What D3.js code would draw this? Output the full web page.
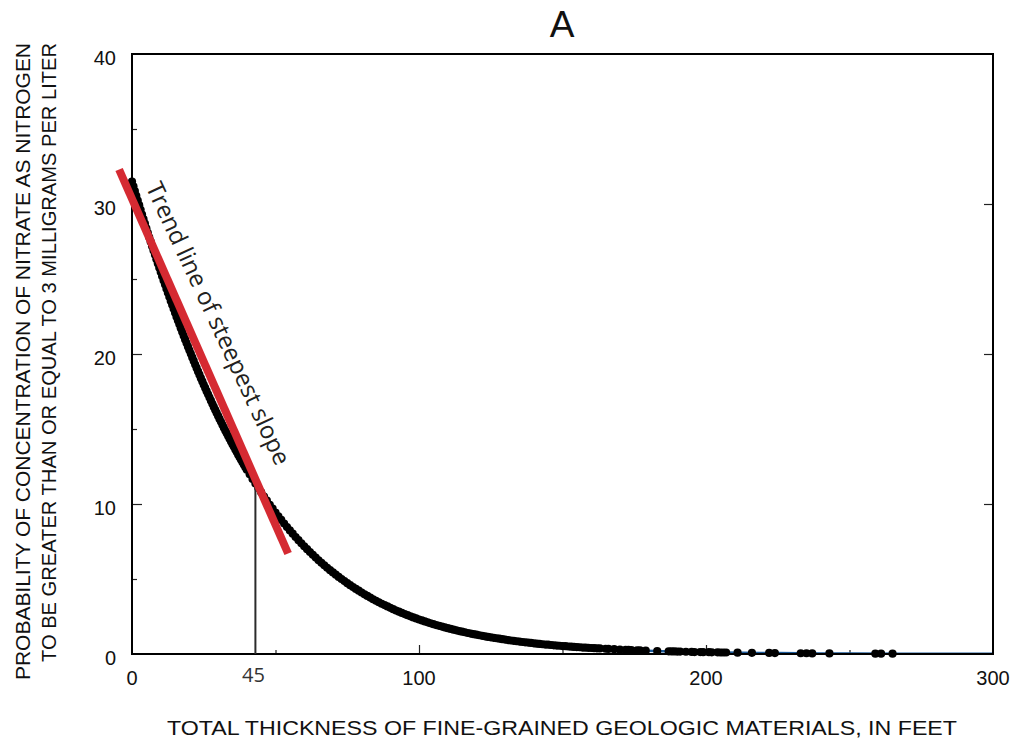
<!DOCTYPE html>
<html>
<head>
<meta charset="utf-8">
<script src="https://cdn.jsdelivr.net/npm/d3@7"></script>
<style>
    body { margin: 0; background: #ffffff; }
    svg { display: block; }
</style>
</head>
<body>
<div class="graph-one"></div>
<script>
// thickness of fine-grained materials (ft) and probability (percent) for each well
const thicknessFt = [
    0, 0.5, 1, 1.5, 2, 2.5, 3, 3.5, 4, 4.5, 5, 5.5, 6, 6.5, 7, 7.5, 8, 8.5, 9, 9.5,
    10, 10.5, 11, 11.5, 12, 12.5, 13, 13.5, 14, 14.5, 15, 15.5, 16, 16.5, 17, 17.5, 18, 18.5, 19, 19.5,
    20, 20.5, 21, 21.5, 22, 22.5, 23, 23.5, 24, 24.5, 25, 25.5, 26, 26.5, 27, 27.5, 28, 28.5, 29, 29.5,
    30, 30.5, 31, 31.5, 32, 32.5, 33, 33.5, 34, 34.5, 35, 35.5, 36, 36.5, 37, 37.5, 38, 38.5, 39, 39.5,
    40, 41, 42, 43, 44, 45, 46, 47, 48, 49, 50, 51, 52, 53, 54, 55, 56, 57, 58, 59, 60,
    61, 62, 63, 64, 65, 66, 67, 68, 69, 70, 71, 72, 73, 74, 75, 76, 77, 78, 79, 80,
    81, 82, 83, 84, 85, 86, 87, 88, 89, 90, 91, 92, 93, 94, 95, 96, 97, 98, 99, 100,
    101, 102, 103, 104, 105, 106, 107, 108, 109, 110, 111, 112, 113, 114, 115, 116, 117, 118, 119, 120,
    121, 122, 123, 124, 125, 126, 127, 128, 129, 130, 131, 132, 133, 134, 135, 136, 137, 138, 139, 140,
    141, 142, 143, 144, 145, 146, 147, 148, 149, 150, 151, 152, 153, 154, 155, 156, 157, 158, 159, 160,
    161, 162, 163, 165, 166, 168, 170, 172, 173, 174, 176, 177, 179, 183, 187, 188, 189, 190, 191, 193,
    195, 196, 198, 199, 201, 202, 204, 205, 206, 207, 211, 216, 222, 224, 233, 235, 237, 243, 259, 261, 265
];

const probabilityPct = [
    31.50, 31.18, 30.86, 30.54, 30.23, 29.92, 29.61, 29.30, 28.99, 28.69,
    28.38, 28.08, 27.78, 27.49, 27.19, 26.90, 26.61, 26.32, 26.03, 25.75,
    25.46, 25.18, 24.90, 24.63, 24.35, 24.08, 23.81, 23.54, 23.28, 23.01,
    22.75, 22.49, 22.23, 21.98, 21.72, 21.47, 21.22, 20.97, 20.73, 20.49,
    20.25, 20.01, 19.77, 19.54, 19.30, 19.07, 18.84, 18.62, 18.39, 18.17,
    17.95, 17.74, 17.52, 17.31, 17.10, 16.89, 16.68, 16.47, 16.27, 16.07,
    15.87, 15.67, 15.48, 15.28, 15.09, 14.90, 14.72, 14.53, 14.35, 14.16,
    13.99, 13.81, 13.63, 13.46, 13.29, 13.12, 12.95, 12.78, 12.62, 12.45,
    12.29,
    11.98, 11.67, 11.36, 11.07, 10.78, 10.50, 10.22, 9.95, 9.69, 9.43,
    9.18, 8.94, 8.70, 8.46, 8.24, 8.02, 7.80, 7.59, 7.38, 7.18,
    6.99, 6.80, 6.61, 6.43, 6.25, 6.08, 5.91, 5.75, 5.59, 5.44,
    5.29, 5.14, 5.00, 4.86, 4.72, 4.59, 4.46, 4.34, 4.22, 4.10,
    3.98, 3.87, 3.76, 3.65, 3.55, 3.45, 3.35, 3.26, 3.17, 3.08,
    2.99, 2.90, 2.82, 2.74, 2.66, 2.59, 2.51, 2.44, 2.37, 2.30,
    2.24, 2.17, 2.11, 2.05, 1.99, 1.93, 1.88, 1.83, 1.77, 1.72,
    1.67, 1.62, 1.58, 1.53, 1.49, 1.45, 1.40, 1.36, 1.32, 1.29,
    1.25, 1.21, 1.18, 1.14, 1.11, 1.08, 1.05, 1.02, 0.99, 0.96,
    0.93, 0.90, 0.88, 0.85, 0.83, 0.80, 0.78, 0.76, 0.74, 0.71,
    0.69, 0.67, 0.65, 0.63, 0.62, 0.60, 0.58, 0.56, 0.55, 0.53,
    0.52, 0.50, 0.49, 0.47, 0.46, 0.45, 0.43, 0.42, 0.41, 0.40,
    0.39, 0.38, 0.37, 0.35, 0.34, 0.32, 0.29, 0.28, 0.27, 0.26,
    0.24, 0.24, 0.22, 0.20, 0.18, 0.17, 0.17, 0.16, 0.16, 0.15,
    0.14, 0.13, 0.13, 0.12, 0.12, 0.11, 0.11, 0.10, 0.10, 0.10,
    0.09, 0.08, 0.07, 0.06, 0.05, 0.05, 0.04, 0.04, 0.02, 0.02, 0.02
];

// fitted curve (blue line)
const fitThickness = [0, 25, 50, 75, 100, 125, 150, 175, 200, 225, 250, 275, 300];
const fitProbability = [31.50, 17.95, 9.43, 4.72, 2.30, 1.11, 0.53, 0.25, 0.12, 0.06, 0.03, 0.01, 0.01];

// trend line of steepest slope, end points
const trendThickness = [-4.5, 54.4];
const trendProbability = [32.3, 6.7];

// vertical marker at the steepest point
const markerThickness = 43;
const markerProbability = 11.7;
const markerLabel = "45";

const xTickLabels = ["0", "100", "200", "300"];
const xTickValues = [0, 100, 200, 300];
const xMinorTicks = [50, 150, 250];
const yTickValues = [0, 10, 20, 30, 40];
const yMinorTicks = [5, 15, 25, 35];

const chartTitle = "A";
const xTitle = "TOTAL THICKNESS OF FINE-GRAINED GEOLOGIC MATERIALS, IN FEET";
const yTitleLines = [
    "PROBABILITY OF CONCENTRATION OF NITRATE AS NITROGEN",
    "TO BE GREATER THAN OR EQUAL TO 3 MILLIGRAMS PER LITER"
];
const annotationText = "Trend line of steepest slope";

function scatterChartGenerator(width, height) {
    const configuration = {
        width: width,
        height: height,
        left: 132,
        right: 993,
        top: 54,
        bottom: 654,
        font: "'Liberation Sans', Arial, sans-serif",
        labelFont: "'Open Sans', sans-serif"
    };

    let scale_x = d3.scaleLinear()
        .domain([0, 300])
        .range([configuration.left, configuration.right]);

    let scale_y = d3.scaleLinear()
        .domain([0, 40])
        .range([configuration.bottom, configuration.top]);

    let svg = d3.select(".graph-one")
        .append("svg")
        .attr("width", configuration.width)
        .attr("height", configuration.height);

    // ticks (inside the frame)
    svg.append("g")
        .attr("transform", `translate(0,${configuration.bottom})`)
        .call(d3.axisTop(scale_x).tickValues(xTickValues.slice(1, 3)).tickSize(9).tickFormat(""))
        .call(g => g.select(".domain").remove());
    svg.append("g")
        .attr("transform", `translate(0,${configuration.bottom})`)
        .call(d3.axisTop(scale_x).tickValues(xMinorTicks).tickSize(4).tickFormat(""))
        .call(g => g.select(".domain").remove());
    svg.append("g")
        .attr("transform", `translate(${configuration.left},0)`)
        .call(d3.axisRight(scale_y).tickValues(yTickValues.slice(1, 4)).tickSize(10).tickFormat(""))
        .call(g => g.select(".domain").remove());
    svg.append("g")
        .attr("transform", `translate(${configuration.left},0)`)
        .call(d3.axisRight(scale_y).tickValues(yMinorTicks).tickSize(5).tickFormat(""))
        .call(g => g.select(".domain").remove());
    svg.append("g")
        .attr("transform", `translate(${configuration.right},0)`)
        .call(d3.axisLeft(scale_y).tickValues(yTickValues.slice(1, 4)).tickSize(9).tickFormat(""))
        .call(g => g.select(".domain").remove());
    svg.selectAll(".tick line").attr("stroke", "#222").attr("stroke-width", 1.2);

    // tick labels
    svg.append("g")
        .selectAll("text")
        .data(xTickValues)
        .join("text")
        .text((d, i) => xTickLabels[i])
        .attr("x", d => scale_x(d))
        .attr("y", 685)
        .attr("text-anchor", "middle")
        .attr("font-family", configuration.font)
        .attr("font-size", 20)
        .attr("fill", "#111");

    svg.append("g")
        .selectAll("text")
        .data(yTickValues)
        .join("text")
        .text(d => d)
        .attr("x", 116)
        .attr("y", d => scale_y(d) + 11)
        .attr("text-anchor", "end")
        .attr("font-family", configuration.font)
        .attr("font-size", 20)
        .attr("fill", "#111");

    // fitted curve
    const fitPoints = fitThickness.map((d, i) => [d, fitProbability[i]]);
    svg.append("path")
        .datum(fitPoints)
        .attr("fill", "none")
        .attr("stroke", "#1c5a99")
        .attr("stroke-width", 2.5)
        .attr("d", d3.line()
            .x(d => scale_x(d[0]))
            .y(d => scale_y(d[1]))
            .curve(d3.curveMonotoneX));

    // well points
    svg.append("g")
        .selectAll("circle")
        .data(thicknessFt.map((d, i) => [d, probabilityPct[i]]))
        .join("circle")
        .attr("cx", d => scale_x(d[0]))
        .attr("cy", d => scale_y(d[1]))
        .attr("r", 4.1)
        .attr("fill", "#000");

    // frame
    svg.append("rect")
        .attr("x", configuration.left)
        .attr("y", configuration.top)
        .attr("width", configuration.right - configuration.left)
        .attr("height", configuration.bottom - configuration.top)
        .attr("fill", "none")
        .attr("stroke", "#000")
        .attr("stroke-width", 2);

    // marker at steepest point
    svg.append("line")
        .attr("x1", scale_x(markerThickness))
        .attr("x2", scale_x(markerThickness))
        .attr("y1", scale_y(0))
        .attr("y2", scale_y(markerProbability))
        .attr("stroke", "#2b2b2b")
        .attr("stroke-width", 2);

    svg.append("text")
        .text(markerLabel)
        .attr("x", scale_x(markerThickness) - 2)
        .attr("y", 682)
        .attr("text-anchor", "middle")
        .attr("font-family", configuration.labelFont)
        .attr("font-size", 20)
        .attr("fill", "#333");

    // trend line
    svg.append("line")
        .attr("x1", scale_x(trendThickness[0]))
        .attr("y1", scale_y(trendProbability[0]))
        .attr("x2", scale_x(trendThickness[1]))
        .attr("y2", scale_y(trendProbability[1]))
        .attr("stroke", "#d52a32")
        .attr("stroke-width", 8);

    svg.append("text")
        .text(annotationText)
        .attr("transform", `translate(${scale_x(27.4)},${scale_y(21.8)}) rotate(65)`)
        .attr("text-anchor", "middle")
        .attr("font-family", configuration.labelFont)
        .attr("font-size", 24)
        .attr("fill", "#231f20");

    // titles
    svg.append("text")
        .text(chartTitle)
        .attr("x", 562)
        .attr("y", 37)
        .attr("text-anchor", "middle")
        .attr("font-family", configuration.font)
        .attr("font-size", 37)
        .attr("fill", "#111");

    svg.append("text")
        .text(xTitle)
        .attr("x", 562)
        .attr("y", 735)
        .attr("text-anchor", "middle")
        .attr("font-family", configuration.font)
        .attr("font-size", 21)
        .attr("textLength", 790)
        .attr("lengthAdjust", "spacingAndGlyphs")
        .attr("fill", "#111");

    const yTitleLengths = [637, 619];
    svg.append("g")
        .selectAll("text")
        .data(yTitleLines)
        .join("text")
        .text(d => d)
        .attr("transform", (d, i) => `translate(${30 + i * 26},43) rotate(-90)`)
        .attr("text-anchor", "end")
        .attr("font-family", configuration.font)
        .attr("font-size", 20.5)
        .attr("textLength", (d, i) => yTitleLengths[i])
        .attr("lengthAdjust", "spacingAndGlyphs")
        .attr("fill", "#111");
}

scatterChartGenerator(1014, 746);
</script>
</body>
</html>
